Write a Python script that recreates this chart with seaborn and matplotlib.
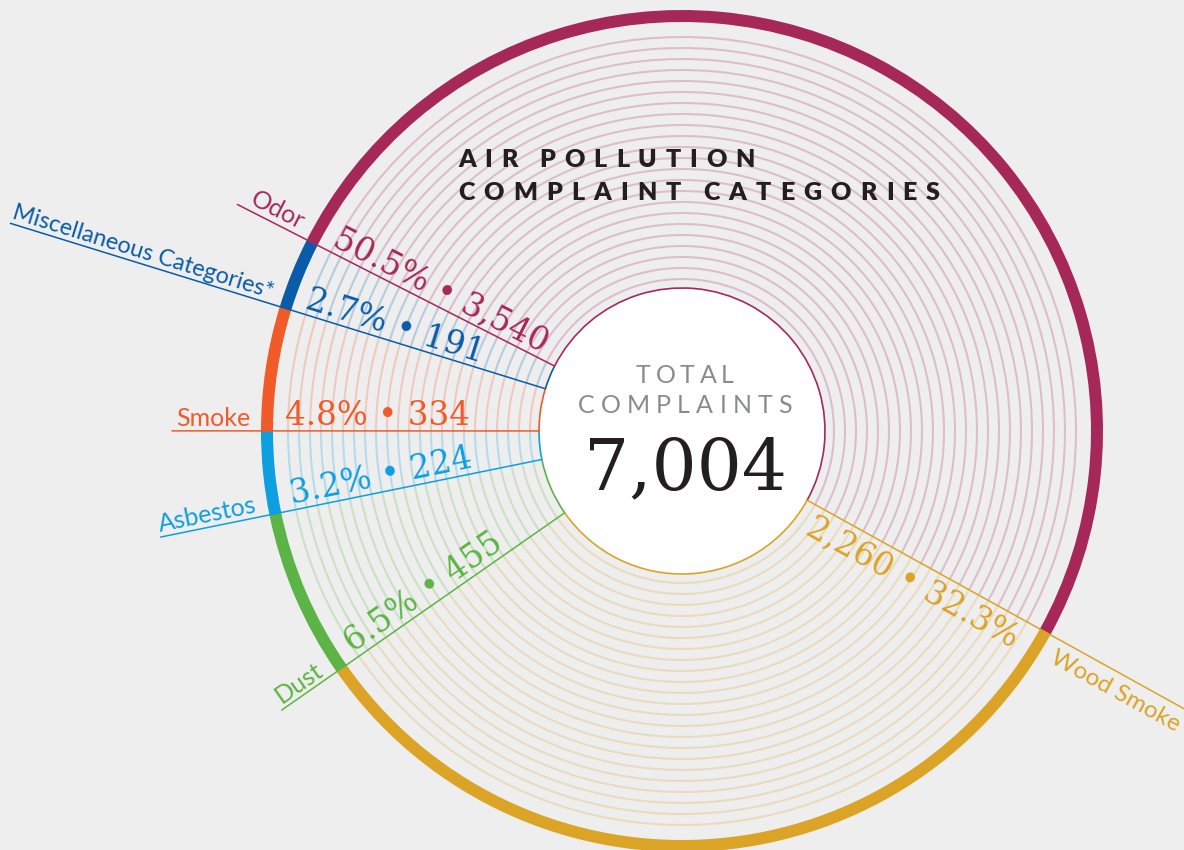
import numpy as np
import pandas as pd
import matplotlib
matplotlib.use("Agg")
import matplotlib.pyplot as plt
from matplotlib.patches import Arc, Circle
import seaborn as sns

# data, clockwise from the top-left boundary
categories = ["Odor", "Wood Smoke", "Dust", "Asbestos", "Smoke", "Miscellaneous Categories*"]
counts = [3540, 2260, 455, 224, 334, 191]
count_labels = ["3,540", "2,260", "455", "224", "334", "191"]
colors = ["#A52858", "#DBA427", "#5DB446", "#0E9FE0", "#F15A29", "#0A5CA8"]
total = sum(counts)

BG = "#EEEEEE"
DARK = "#231F20"
SANS = "Lato"
SERIF = "DejaVu Serif"

# layout in pixels (y up)
CX, CY = 682, 850 - 431
R_OUT, RING_W, R_IN = 421, 12, 143
ring_radii = np.arange(152, 396, 11)
line_end = {"Odor": 499, "Wood Smoke": 660, "Dust": 488, "Asbestos": 532,
            "Smoke": 510, "Miscellaneous Categories*": 703}

sns.set_theme(style="white", rc={"figure.facecolor": BG, "axes.facecolor": BG})

fig = plt.figure(figsize=(11.84, 8.5), dpi=100)
ax = fig.add_axes([0, 0, 1, 1])
rend = fig.canvas.get_renderer()


def ink_width(s, **kw):
    t = ax.text(0, 0, s, **kw)
    wd = t.get_window_extent(renderer=rend).width
    t.remove()
    return wd


# outer coloured ring
wedges, _ = ax.pie(counts, colors=colors, radius=R_OUT, center=(CX, CY), startangle=153.0,
                   counterclock=False, wedgeprops=dict(width=RING_W, linewidth=0))
for w in wedges:
    w.set_zorder(2)

# thin concentric rings inside each slice
for w, col in zip(wedges, colors):
    for r in ring_radii:
        ax.add_patch(Arc((CX, CY), 2 * r, 2 * r, theta1=w.theta1, theta2=w.theta2,
                         color=col, alpha=0.24, lw=1.5, zorder=1))

# white centre with coloured outline
ax.add_patch(Circle((CX, CY), R_IN, facecolor="white", edgecolor="none", zorder=3))
for w, col in zip(wedges, colors):
    ax.add_patch(Arc((CX, CY), 2 * R_IN, 2 * R_IN, theta1=w.theta1, theta2=w.theta2,
                     color=col, lw=1.2, zorder=4))

# leader lines on the counter-clockwise edge of each slice
rows = []
for w, cat in zip(wedges, categories):
    t = np.deg2rad(w.theta2)
    for r in (R_IN, line_end[cat]):
        rows.append({"x": CX + r * np.cos(t), "y": CY + r * np.sin(t), "cat": cat})
lines = pd.DataFrame(rows)
sns.lineplot(data=lines, x="x", y="y", hue="cat", palette=dict(zip(categories, colors)),
             sort=False, estimator=None, legend=False, linewidth=1.1, ax=ax, zorder=5)


def along(theta, r, off, s, ha, va, **kw):
    t = np.deg2rad(theta)
    u = np.array([np.cos(t), np.sin(t)])
    d = -u if u[0] < 0 else u
    n = np.array([-d[1], d[0]])
    p = np.array([CX, CY]) + r * u + off * n
    rot = np.degrees(np.arctan2(d[1], d[0]))
    ax.text(p[0], p[1], s, rotation=rot, rotation_mode="anchor", ha=ha, va=va, zorder=6, **kw)


for w, cat, n, lab, col in zip(wedges, categories, counts, count_labels, colors):
    pct = f"{n / total * 100:.1f}%"
    left = np.cos(np.deg2rad(w.theta2)) < 0
    if left:
        size = 18
        room = line_end[cat] - 432
        wd = ink_width(cat, fontsize=size, family=SANS)
        if wd > room:
            size = size * room / wd
        along(w.theta2, 432, 5, cat, "right", "baseline",
              color=col, fontsize=size, family=SANS)
        along(w.theta2, 397, 6, f"{pct} • {lab}", "left", "baseline",
              color=col, fontsize=23.5, family=SERIF)
    else:
        along(w.theta2, 433, -7, cat, "left", "top",
              color=col, fontsize=17.5, family=SANS)
        along(w.theta2, 394, -5, f"{lab} • {pct}", "right", "top",
              color=col, fontsize=23.5, family=SERIF)


# letter-spaced text
def tracked(x, y, s, width, space, ha="left", **kw):
    ws = [space if ch == " " else ink_width(ch, **kw) for ch in s]
    track = (width - sum(ws)) / (len(s) - 1)
    x0 = x - width / 2 if ha == "center" else x
    for ch, wd in zip(s, ws):
        if ch != " ":
            ax.text(x0, y, ch, ha="left", va="baseline", zorder=6, **kw)
        x0 += wd + track


tracked(458, 850 - 167, "AIR POLLUTION", 297, 4, fontsize=18, fontweight="heavy",
        family=SANS, color=DARK)
tracked(458, 850 - 200, "COMPLAINT CATEGORIES", 482, 4, fontsize=18, fontweight="heavy",
        family=SANS, color=DARK)
tracked(685, 850 - 383, "TOTAL", 98, 6, ha="center", fontsize=18,
        family=SANS, color="#8A8B8D")
tracked(685, 850 - 413, "COMPLAINTS", 214, 6, ha="center", fontsize=18,
        family=SANS, color="#8A8B8D")
ax.text(686, 850 - 489, f"{total:,}", ha="center", va="baseline", fontsize=51,
        family=SERIF, color=DARK, zorder=6)

ax.set_xlim(0, 1184)
ax.set_ylim(0, 850)
ax.set_aspect("equal")
ax.axis("off")
fig.savefig("out.png", dpi=100, facecolor=BG)
